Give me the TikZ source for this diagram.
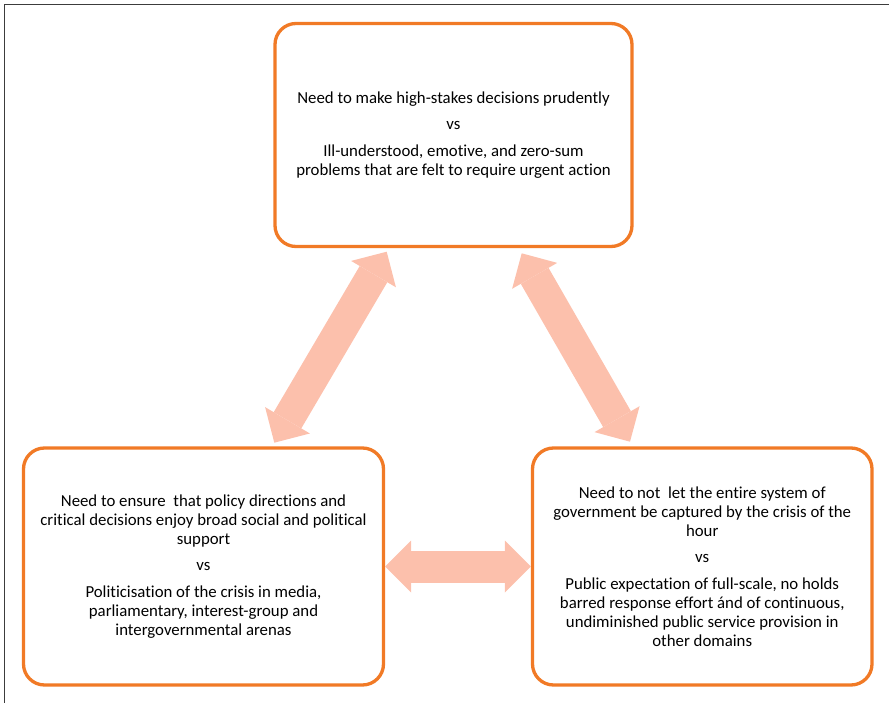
\documentclass[tikz,border=0pt]{standalone}
\usepackage{fontspec}
\setmainfont{Carlito}[Ligatures=NoCommon]
\usepackage{tikz}
\usetikzlibrary{arrows.meta}
\definecolor{boxorange}{RGB}{241,122,38}
\definecolor{arrowpeach}{RGB}{252,192,172}
\definecolor{framegray}{RGB}{60,60,60}
\tikzset{
  dilemma/.style={draw=boxorange, line width=3.3pt, rounded corners=21pt,
    fill=white, align=center, font=\fontsize{16.8}{18.8}\selectfont},
  pull/.style={draw=arrowpeach, line width=32pt,
    {Triangle[length=26pt,width=52pt,line width=0pt]}-{Triangle[length=26pt,width=52pt,line width=0pt]}}
}

\begin{document}
\begin{tikzpicture}[x=1pt,y=-1pt]
      \useasboundingbox (0,0) rectangle (889,703);
      \draw[framegray, line width=1pt] (4.5,703) -- (4.5,4.5) -- (889,4.5);
      % the three dilemmas
      \node[dilemma, minimum width=357pt, minimum height=223pt] (crisis) at (453.5,135)
        {Need to make high-stakes decisions prudently\\[8pt]
         vs\\[8pt]
         Ill-understood, emotive, and zero-sum\\
         problems that are felt to require urgent action};
      \node[dilemma, minimum width=360pt, minimum height=237pt] (support) at (203.5,566.5)
        {Need to ensure~ that policy directions and\\
         critical decisions enjoy broad social and political\\
         support\\[8pt]
         vs\\[8pt]
         Politicisation of the crisis in media,\\
         parliamentary, interest-group and\\
         intergovernmental arenas};
      \node[dilemma, minimum width=339.5pt, minimum height=237pt] (system) at (702.25,566.5)
        {Need to not~ let the entire system of\\
         government be captured by the crisis of the\\
         hour\\[8pt]
         vs\\[8pt]
         Public expectation of full-scale, no holds\\
         barred response effort ánd of continuous,\\
         undiminished public service provision in\\
         other domains};
      % arrows between them
      \coordinate (a1) at (386.7,251.7);
      \coordinate (a2) at (274.3,442.7);
      \coordinate (b1) at (521.7,253.3);
      \coordinate (b2) at (630,441.7);
      \draw[pull] (a2) -- (a1);
      \draw[pull] (b1) -- (b2);
      \draw[pull] (support.east) -- (system.west);
\end{tikzpicture}
\end{document}
